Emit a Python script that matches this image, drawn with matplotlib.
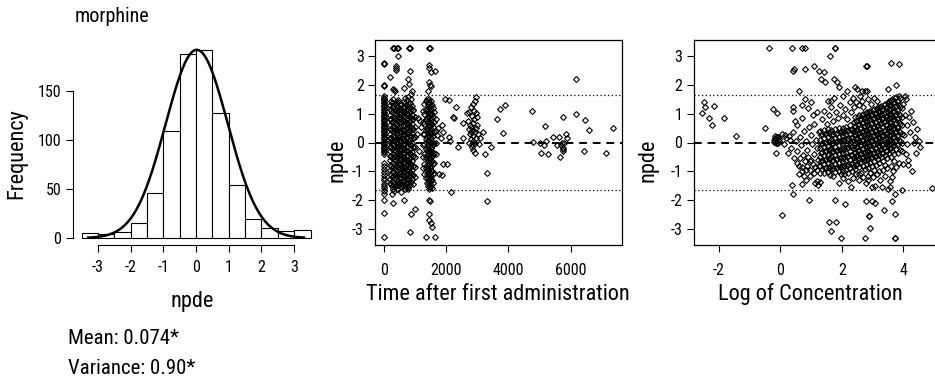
import numpy as np
import matplotlib.pyplot as plt

plt.rcParams['font.family'] = ['Roboto Condensed', 'Lato', 'DejaVu Sans']
plt.rcParams['axes.unicode_minus'] = False

W, H = 935, 385

# === histogram of npde ===
bin_edges  = [-3.5, -3.0, -2.5, -2.0, -1.5, -1.0, -0.5, 0.0, 0.5, 1.0, 1.5, 2.0, 2.5, 3.0, 3.5]
bin_counts = [5, 4, 6, 15, 46, 109, 188, 192, 128, 54, 19, 10, 7, 8]
curve_mean, curve_sd, curve_peak = 0.02, 0.95, 192
hist_xticks = [-3, -2, -1, 0, 1, 2, 3]
hist_yticks = [0, 50, 100, 150]

# === npde vs time ===
# points at time 0
t0_npde = [2.75, 2.72, 2.00, 1.96, 1.60, 1.55, 1.50, 1.46, 1.41, 1.36, 1.31, 1.27, 1.22,
           1.17, 1.12, 1.07, 1.02, 0.97, 0.93, 0.88, 0.83, 0.78, 0.73, 0.68, 0.64, 0.59,
           0.54, 0.49, 0.44, 0.39, 0.35, 0.30, 0.25, 0.20, 0.15, 0.11, 0.06, 0.01, -0.04,
           -0.09, -0.14, -0.19, -0.24, -0.29, -0.34, -0.39, -0.70, -0.82, -0.93, -1.02,
           -1.12, -1.22, -1.30, -1.45, -1.50, -1.58, -1.69, -1.80, -1.98, -2.44, -3.29]

# dense columns (time, npde values)
time_cols = [
    (180, [1.30, 0.95, 0.62, 0.30, 0.02, -0.30, -0.62, -0.95, -1.28]),
    (200, [1.15, 0.80, 0.46, 0.14, -0.16, -0.46, -0.78, -1.10, -1.42]),
    (220, [1.45, 1.12, 0.80, 0.46, 0.15, -0.15, -0.46, -0.80, -1.12, -1.45]),
    (260, [1.38, 1.05, 0.72, 0.40, 0.08, -0.24, -0.55, -0.88, -1.20, -1.52]),
    (280, [1.22, 0.88, 0.56, 0.24, -0.08, -0.40, -0.72, -1.04, -1.36]),
    (300, [1.50, 1.20, 0.88, 0.55, 0.22, -0.08, -0.40, -0.72, -1.04, -1.36, -1.62]),
    (340, [1.32, 1.00, 0.66, 0.35, 0.04, -0.28, -0.60, -0.92, -1.25, -1.55]),
    (360, [1.16, 0.84, 0.50, 0.20, -0.12, -0.44, -0.76, -1.08, -1.40]),
    (380, [1.42, 1.10, 0.78, 0.45, 0.12, -0.18, -0.50, -0.82, -1.15, -1.46]),
    (420, [1.25, 0.92, 0.60, 0.28, -0.04, -0.36, -0.68, -1.00, -1.32, -1.60]),
    (440, [1.40, 1.08, 0.76, 0.44, 0.12, -0.20, -0.52, -0.84, -1.16, -1.46]),
    (460, [1.48, 1.15, 0.84, 0.50, 0.18, -0.12, -0.44, -0.76, -1.08, -1.40]),
    (500, [1.20, 0.88, 0.55, 0.24, -0.08, -0.40, -0.72, -1.04, -1.36]),
    (520, [1.04, 0.72, 0.40, 0.08, -0.24, -0.56, -0.88, -1.20]),
    (540, [1.35, 1.02, 0.70, 0.38, 0.06, -0.26, -0.58, -0.90, -1.22, -1.50]),
    (580, [1.10, 0.78, 0.45, 0.14, -0.18, -0.50, -0.82, -1.14, -1.45]),
    (600, [1.25, 0.92, 0.60, 0.28, -0.04, -0.36, -0.68, -1.00, -1.30]),
    (620, [1.40, 1.06, 0.74, 0.42, 0.10, -0.22, -0.54, -0.86, -1.18, -1.50]),
    (660, [1.55, 1.22, 0.90, 0.58, 0.26, -0.06, -0.38, -0.70, -1.02, -1.34, -1.62]),
    (680, [1.38, 1.06, 0.74, 0.42, 0.10, -0.22, -0.54, -0.86, -1.18, -1.48]),
    (700, [1.30, 0.98, 0.66, 0.34, 0.02, -0.30, -0.62, -0.94, -1.26, -1.56]),
    (740, [1.48, 1.16, 0.84, 0.52, 0.20, -0.12, -0.44, -0.76, -1.08, -1.40]),
    (760, [1.32, 1.00, 0.68, 0.36, 0.04, -0.28, -0.60, -0.92, -1.24, -1.54]),
    (780, [1.58, 1.25, 0.94, 0.62, 0.30, -0.02, -0.34, -0.66, -0.98, -1.30, -1.60]),
    (820, [1.38, 1.06, 0.74, 0.42, 0.10, -0.22, -0.54, -0.86, -1.18, -1.48]),
    (840, [1.22, 0.90, 0.58, 0.26, -0.06, -0.38, -0.70, -1.02, -1.34]),
    (860, [1.50, 1.18, 0.86, 0.54, 0.22, -0.10, -0.42, -0.74, -1.06, -1.38]),
    (900, [1.28, 0.96, 0.64, 0.32, 0.00, -0.32, -0.64, -0.96, -1.28]),
    (920, [1.12, 0.80, 0.48, 0.16, -0.16, -0.48, -0.80, -1.12]),
    (940, [1.12, 0.80, 0.48, 0.16, -0.16, -0.48, -0.80, -1.12, -1.44]),
    (980, [0.90, 0.55, 0.20, -0.15, -0.50, -0.85, -1.20]),
    (1260, [1.10, 0.70, 0.30, -0.10, -0.50, -0.90]),
    (1300, [1.35, 1.00, 0.65, 0.30, -0.05, -0.40, -0.75, -1.10]),
    (1340, [1.45, 1.12, 0.78, 0.45, 0.12, -0.22, -0.55, -0.88, -1.22]),
    (1380, [1.50, 1.18, 0.85, 0.52, 0.20, -0.12, -0.45, -0.78, -1.10, -1.42]),
    (1400, [1.34, 1.02, 0.68, 0.36, 0.04, -0.28, -0.62, -0.94, -1.26]),
    (1420, [1.40, 1.08, 0.75, 0.42, 0.10, -0.22, -0.55, -0.88, -1.20, -1.52]),
    (1440, [1.24, 0.92, 0.60, 0.26, -0.06, -0.38, -0.70, -1.02, -1.34]),
    (1460, [1.52, 1.20, 0.88, 0.55, 0.22, -0.10, -0.42, -0.75, -1.08, -1.40, -1.62]),
    (1480, [1.36, 1.04, 0.72, 0.38, 0.06, -0.26, -0.58, -0.90, -1.22, -1.54]),
    (1500, [1.45, 1.12, 0.80, 0.48, 0.15, -0.18, -0.50, -0.82, -1.15, -1.48]),
    (1520, [1.28, 0.96, 0.64, 0.30, -0.02, -0.34, -0.66, -0.98, -1.30]),
    (1540, [1.30, 0.98, 0.65, 0.32, 0.00, -0.32, -0.65, -0.98, -1.30, -1.58]),
    (1580, [1.20, 0.88, 0.55, 0.22, -0.10, -0.42, -0.75, -1.08, -1.40]),
    (1620, [1.05, 0.70, 0.35, 0.00, -0.35, -0.70, -1.05]),
    (1660, [0.80, 0.40, 0.00, -0.40]),
]

# scattered points (time, npde)
time_sparse = [
    (300, 3.29), (330, 3.29), (420, 3.29), (450, 3.29), (450, 3.00), (380, 2.67), (400, 2.60),
    (380, 2.52), (200, 2.27), (300, 1.86), (320, 1.84), (350, 1.80), (280, -2.10), (250, -1.80),
    (330, -1.70), (800, 3.29), (840, 3.29), (850, 2.50), (780, 2.20), (800, 2.03), (650, 1.90),
    (900, 1.80), (880, 1.70), (650, -2.00), (1000, -2.32), (880, -2.50), (820, -3.10), (560, -1.72),
    (1100, 0.85), (1150, 0.75), (1050, 0.30), (1200, 0.55), (1120, -0.30),
    (1450, 3.29), (1480, 3.29), (1440, 2.70), (1460, 2.60), (1500, 2.45), (1650, 2.50),
    (1440, 2.10), (1500, 1.95), (1420, 1.80), (1470, 2.00), (1450, -2.00), (1480, -2.02),
    (1440, -2.48), (1450, -2.70), (1500, -2.80), (1540, -2.95), (1350, -3.29), (1650, -3.29),
    (1750, 0.50), (1760, -1.08), (1890, -0.73), (1950, 1.52), (1700, 0.25),
    (1854, 0.62), (1908, 0.38), (1833, 0.17), (1854, -1.13), (2015, -0.73), (2100, 1.48),
    (2100, 0.20), (2122, 0.06), (2143, -1.72), (2229, 0.90), (2250, 0.85), (2315, 1.24),
    (2390, -0.14), (2529, 0.17), (2550, 0.69),
    (2958, 1.57), (2926, 1.43), (2872, 1.34), (2787, 1.22), (2744, 1.05), (2680, 1.01),
    (2819, 0.93), (2958, 1.01), (2980, 0.87), (2712, 0.76), (2765, 0.62), (2872, 0.66),
    (3001, 0.62), (2744, 0.47), (2819, 0.41), (2926, 0.35), (2765, 0.29), (2851, 0.23),
    (3033, 0.29), (3194, 0.38), (3087, 0.17), (2872, 0.06), (2744, -0.03), (2926, -0.03),
    (3065, -0.06), (2819, -0.17), (2872, -0.27), (2926, -0.35), (2787, 0.12), (2800, 0.55),
    (2900, 0.80), (2850, 0.45), (2780, 0.35), (2950, 0.15), (2830, -0.05), (2890, 1.10),
    (2960, 0.50),
    (3243, -0.41), (3318, -1.05), (3318, -2.03), (3425, -0.17), (3618, 0.81), (3725, 1.16),
    (3811, 0.33), (3886, 1.31), (4743, 1.08), (4796, 0.03), (5010, -0.03), (5032, -0.35),
    (5171, 0.58), (5203, 0.06), (5139, -0.08), (5278, -0.41), (5439, 0.20), (5546, -0.08),
    (5632, 0.20), (5653, -0.50), (5739, -0.29), (5761, 0.90), (5782, -0.03), (5846, 0.29),
    (5889, 0.15), (5700, -0.10), (5740, -0.18), (5760, -0.22), (5720, 0.00), (6185, 2.21),
    (6185, 0.99), (6431, -0.29), (6475, 0.79), (6593, 0.44), (7129, -0.38), (7374, 0.52),
]
time_xticks = [0, 2000, 4000, 6000]

# === npde vs log concentration ===
conc_cols = [
    (1.30, [0.40, 0.10, -0.20, -0.50, -0.80]),
    (1.33, [0.25, -0.05, -0.35, -0.65]),
    (1.36, [0.28, -0.02, -0.32, -0.62, -0.92]),
    (1.42, [0.45, 0.15, -0.15, -0.45, -0.75, -1.05]),
    (1.45, [0.30, 0.00, -0.30, -0.60, -0.90]),
    (1.48, [0.32, 0.02, -0.28, -0.58, -0.88]),
    (1.54, [0.48, 0.18, -0.12, -0.42, -0.72, -1.02]),
    (1.57, [0.33, 0.03, -0.27, -0.57, -0.87]),
    (1.60, [0.36, 0.06, -0.24, -0.54, -0.84, -1.12]),
    (1.66, [0.42, 0.12, -0.18, -0.48, -0.78]),
    (1.69, [0.27, -0.03, -0.33, -0.63, -0.93]),
    (1.72, [0.30, 0.00, -0.30, -0.60, -0.90, -1.15]),
    (1.78, [0.46, 0.16, -0.14, -0.44, -0.74, -1.04]),
    (1.81, [0.31, 0.01, -0.29, -0.59, -0.89]),
    (1.84, [0.34, 0.04, -0.26, -0.56, -0.86]),
    (1.90, [0.50, 0.20, -0.10, -0.40, -0.70, -1.00]),
    (1.93, [0.35, 0.05, -0.25, -0.55, -0.85]),
    (1.96, [0.38, 0.08, -0.22, -0.52, -0.82, -1.10]),
    (2.02, [0.52, 0.22, -0.08, -0.38, -0.68, -0.98]),
    (2.05, [0.37, 0.07, -0.23, -0.53, -0.83]),
    (2.08, [0.40, 0.10, -0.20, -0.50, -0.80, -1.08]),
    (2.14, [0.55, 0.25, -0.05, -0.35, -0.65, -0.95]),
    (2.17, [0.40, 0.10, -0.20, -0.50, -0.80]),
    (2.20, [0.44, 0.14, -0.16, -0.46, -0.76, -1.05]),
    (2.26, [0.60, 0.30, 0.00, -0.30, -0.60, -0.90]),
    (2.29, [0.45, 0.15, -0.15, -0.45, -0.75]),
    (2.32, [0.48, 0.18, -0.12, -0.42, -0.72, -1.00]),
    (2.38, [0.70, 0.40, 0.10, -0.20, -0.50, -0.80]),
    (2.41, [0.55, 0.25, -0.05, -0.35, -0.65]),
    (2.44, [0.88, 0.58, 0.28, -0.02, -0.32, -0.62, -0.92]),
    (2.47, [0.73, 0.43, 0.13, -0.17, -0.47, -0.77]),
    (2.50, [0.75, 0.45, 0.15, -0.15, -0.45, -0.75]),
    (2.53, [0.90, 0.60, 0.30, 0.00, -0.30, -0.60]),
    (2.56, [0.95, 0.65, 0.35, 0.05, -0.25, -0.55, -0.85, -1.10]),
    (2.59, [0.80, 0.50, 0.20, -0.10, -0.40, -0.70]),
    (2.62, [0.82, 0.52, 0.22, -0.08, -0.38, -0.68]),
    (2.65, [0.97, 0.67, 0.37, 0.07, -0.23, -0.53]),
    (2.68, [1.00, 0.70, 0.40, 0.10, -0.20, -0.50, -0.80]),
    (2.71, [0.85, 0.55, 0.25, -0.05, -0.35, -0.65]),
    (2.74, [0.88, 0.58, 0.28, -0.02, -0.32, -0.62, -0.92]),
    (2.77, [1.03, 0.73, 0.43, 0.13, -0.17, -0.47]),
    (2.80, [1.05, 0.75, 0.45, 0.15, -0.15, -0.45, -0.75]),
    (2.83, [0.90, 0.60, 0.30, 0.00, -0.30, -0.60]),
    (2.86, [0.92, 0.62, 0.32, 0.02, -0.28, -0.58, -0.88, -1.15]),
    (2.89, [1.07, 0.77, 0.47, 0.17, -0.13, -0.43]),
    (2.92, [1.10, 0.80, 0.50, 0.20, -0.10, -0.40, -0.70]),
    (2.95, [0.95, 0.65, 0.35, 0.05, -0.25, -0.55]),
    (2.98, [0.98, 0.68, 0.38, 0.08, -0.22, -0.52, -0.82]),
    (3.01, [1.13, 0.83, 0.53, 0.23, -0.07, -0.37]),
    (3.04, [1.15, 0.85, 0.55, 0.25, -0.05, -0.35, -0.65, -0.95]),
    (3.07, [1.00, 0.70, 0.40, 0.10, -0.20, -0.50]),
    (3.10, [1.02, 0.72, 0.42, 0.12, -0.18, -0.48, -0.78]),
    (3.13, [1.17, 0.87, 0.57, 0.27, -0.03, -0.33]),
    (3.16, [1.22, 0.92, 0.62, 0.32, 0.02, -0.28, -0.58]),
    (3.19, [1.07, 0.77, 0.47, 0.17, -0.13, -0.43]),
    (3.22, [1.08, 0.78, 0.48, 0.18, -0.12, -0.42, -0.72, -1.00]),
    (3.25, [1.23, 0.93, 0.63, 0.33, 0.03, -0.27]),
    (3.28, [1.28, 0.98, 0.68, 0.38, 0.08, -0.22, -0.52]),
    (3.31, [1.13, 0.83, 0.53, 0.23, -0.07, -0.37]),
    (3.34, [1.15, 0.85, 0.55, 0.25, -0.05, -0.35, -0.65]),
    (3.37, [1.30, 1.00, 0.70, 0.40, 0.10, -0.20]),
    (3.40, [1.35, 1.05, 0.75, 0.45, 0.15, -0.15, -0.45, -0.78]),
    (3.43, [1.20, 0.90, 0.60, 0.30, 0.00, -0.30]),
    (3.46, [1.22, 0.92, 0.62, 0.32, 0.02, -0.28, -0.55]),
    (3.49, [1.37, 1.07, 0.77, 0.47, 0.17, -0.13]),
    (3.52, [1.45, 1.15, 0.85, 0.55, 0.25, -0.05, -0.35]),
    (3.55, [1.30, 1.00, 0.70, 0.40, 0.10, -0.20]),
    (3.58, [1.30, 1.00, 0.70, 0.40, 0.10, -0.20, -0.50, -0.80]),
    (3.61, [1.45, 1.15, 0.85, 0.55, 0.25, -0.05]),
    (3.64, [1.52, 1.22, 0.92, 0.62, 0.32, 0.02, -0.28]),
    (3.67, [1.37, 1.07, 0.77, 0.47, 0.17, -0.13]),
    (3.70, [1.40, 1.10, 0.80, 0.50, 0.20, -0.10, -0.40, -0.65]),
    (3.73, [1.55, 1.25, 0.95, 0.65, 0.35, 0.05]),
    (3.76, [1.58, 1.28, 0.98, 0.68, 0.38, 0.08, -0.22]),
    (3.79, [1.43, 1.13, 0.83, 0.53, 0.23, -0.07]),
    (3.82, [1.45, 1.15, 0.85, 0.55, 0.25, -0.05, -0.35]),
    (3.85, [1.60, 1.30, 1.00, 0.70, 0.40, 0.10]),
    (3.88, [1.55, 1.25, 0.95, 0.65, 0.35, 0.05, -0.25]),
    (3.94, [1.20, 0.90, 0.60, 0.30, 0.00, -0.30]),
]

conc_sparse = [
    (-2.54, 1.01), (-2.49, 1.40), (-2.44, 1.24), (-2.33, 0.85), (-2.22, 0.62), (-2.14, 1.28),
    (-1.82, 0.84), (-1.43, 0.21), (-0.49, 0.52), (-0.38, 3.29), (-0.24, 1.16), (-0.11, 1.02),
    (-0.14, -0.37), (0.06, -2.52), (0.06, 0.31),
    (-0.20, 0.10), (-0.15, 0.05), (-0.10, 0.00), (-0.05, 0.12), (-0.12, 0.18), (-0.08, -0.03),
    (-0.18, 0.15), (-0.03, 0.05), (-0.13, -0.02), (-0.06, 0.20), (-0.16, 0.22), (-0.22, 0.02),
    (0.38, 3.29), (0.70, 3.29), (0.81, 3.29), (1.76, 3.29), (1.78, 3.29), (1.62, 2.99),
    (1.08, 2.67), (0.41, 2.50), (0.44, 2.56), (0.79, 2.56), (1.27, 2.50), (1.41, 2.45),
    (1.33, 2.20), (1.46, 2.10), (1.73, 2.20), (1.84, 2.10), (0.60, 1.80), (0.41, 1.22),
    (1.89, 1.92), (2.16, 1.80), (2.44, 1.92), (2.49, 1.86), (2.65, 1.80), (2.76, 1.80),
    (2.78, 2.67), (2.81, 2.67), (3.60, 2.75), (3.84, 2.71), (3.50, 1.86), (3.76, 2.01),
    (0.79, 1.51), (1.66, 1.45), (2.81, 1.80),
    (0.39, -1.48), (0.41, -1.78), (0.92, -2.01), (1.79, -2.01), (2.11, -2.13), (2.78, -2.03),
    (2.87, -2.56), (1.57, -2.76), (1.81, -2.76), (1.66, -3.08), (1.98, -3.31), (2.76, -3.31),
    (0.72, -1.45), (2.98, -2.03), (3.06, -2.09), (2.89, -2.56), (2.92, -2.97), (3.36, -2.36),
    (3.62, -2.03), (3.71, -2.47), (3.71, -1.80), (3.71, -3.31), (3.72, -3.30), (3.95, -1.65),
    (4.92, -1.59), (3.50, -1.63), (3.57, -1.55),
    (4.08, 1.51), (4.17, 0.87), (4.44, 0.47), (4.38, 0.20), (4.50, 0.05), (4.55, -0.17),
    (4.27, -0.99), (4.14, -0.78), (3.62, -1.20),
    (1.14, -1.40), (1.22, -1.48), (1.28, -1.38), (1.18, -1.35),
    (0.15, 0.25), (0.25, -0.35), (0.30, 0.10), (0.35, -0.20), (0.42, 0.35), (0.45, -0.55),
    (0.50, 0.05), (0.55, -0.30), (0.55, 0.60), (0.62, -0.80), (0.65, 0.20), (0.68, -0.10),
    (0.72, 0.85), (0.75, -0.45), (0.78, 0.40), (0.82, -0.95), (0.85, 0.05), (0.88, -0.25),
    (0.90, 1.20), (0.92, 0.55), (0.95, -0.65), (0.98, -1.15), (1.00, 0.25), (1.02, -0.05),
    (1.05, 0.95), (1.08, -0.40), (1.10, 0.65), (1.12, -0.85), (1.15, 0.10), (1.18, -0.20),
    (1.20, 1.05), (1.22, -0.60), (1.25, 0.35), (1.28, -1.05), (0.40, 1.10), (0.70, 1.30),
    (1.00, 1.40), (0.60, -1.10), (0.85, -1.30), (0.48, 0.75),
    (0.55, -0.70), (0.65, -0.55), (0.72, -0.85), (0.80, -0.65), (0.88, -0.80), (0.95, -0.95),
    (1.05, -0.75), (1.10, -1.05), (1.18, -0.95), (1.25, -0.80), (0.90, -0.50), (1.00, -0.60),
    (0.70, -1.00), (0.78, -1.15), (0.20, 0.15), (0.28, 0.22), (0.12, -0.05),
    (1.35, 0.80), (1.42, 1.10), (1.50, 0.65), (1.58, 0.95), (1.65, 1.25), (1.72, 0.75),
    (1.80, 1.05), (1.88, 0.85), (1.95, 1.30), (2.02, 0.95), (2.10, 1.15), (2.18, 0.80),
    (2.25, 1.40), (2.30, 1.05), (2.36, 1.55), (1.55, 1.45), (2.05, 1.60), (1.75, 1.55),
    (2.40, 1.25), (2.45, 1.40), (2.55, 1.30), (2.65, 1.45), (2.70, 1.25), (2.85, 1.50),
    (2.95, 1.35), (3.05, 1.55), (3.15, 1.45), (2.60, 1.62),
    (2.45, -1.10), (2.55, -1.30), (2.62, -1.05), (2.70, -1.20), (2.78, -1.40), (2.85, -1.30),
    (2.92, -1.05), (3.00, -1.20), (3.08, -1.50), (3.15, -1.10), (3.25, -1.30), (3.32, -0.95),
    (3.40, -1.15), (3.48, -0.90), (3.55, -1.35), (3.65, -1.00), (3.75, -0.85), (3.85, -0.70),
    (2.35, -1.25), (2.20, -1.35), (2.05, -1.25), (1.90, -1.40), (2.28, -1.55), (2.98, -1.55),
    (3.30, -1.55),
    (4.00, 1.35), (4.05, 0.95), (4.10, 0.60), (4.02, 0.25), (4.12, -0.05), (4.08, -0.40),
    (4.20, 0.35), (4.25, 1.10), (4.30, 0.70), (4.15, -0.60), (4.35, 0.00), (4.00, -0.75),
    (4.40, -0.35), (4.05, 1.60),
]
conc_xticks = [-2, 0, 2, 4]
npde_yticks = [-3, -2, -1, 0, 1, 2, 3]
pi_limit = 1.645


def expand(cols):
    xs, ys = [], []
    for x, vals in cols:
        xs += [x] * len(vals)
        ys += vals
    return xs, ys


def px_axes(left, top, right, bottom):
    return fig.add_axes([left / W, 1 - bottom / H, (right - left) / W, (bottom - top) / H])


def px_text(x, y, s, **kw):
    fig.text(x / W, 1 - y / H, s, **kw)


fig = plt.figure(figsize=(W / 100, H / 100), dpi=100)

tick_kw = dict(direction='out', length=5, width=0.8, labelsize=11.5, color='black')
pt_kw = dict(ls='none', marker='D', ms=3.0, mfc='none', mec='black', mew=0.8)

# --- panel 1: histogram ---
ax1 = px_axes(72.5, 40, 319.7, 245)
ax1.bar(bin_edges[:-1], bin_counts, width=0.5, align='edge',
        color='white', edgecolor='black', lw=0.8)
xc = np.linspace(-3.3, 3.3, 200)
ax1.plot(xc, curve_peak * np.exp(-(xc - curve_mean) ** 2 / (2 * curve_sd ** 2)), color='black', lw=1.8)
ax1.set_xlim(-3.78, 3.78)
ax1.set_ylim(-7.1, 202)
for s in ['top', 'right']:
    ax1.spines[s].set_visible(False)
ax1.spines['left'].set_bounds(0, 150)
ax1.spines['bottom'].set_bounds(-3, 3)
ax1.set_xticks(hist_xticks)
ax1.set_yticks(hist_yticks)
ax1.tick_params(axis='x', pad=6, **tick_kw)
ax1.tick_params(axis='y', pad=3, **tick_kw)

# --- panel 2: npde vs time ---
ax2 = px_axes(375, 40, 622, 245)
tx, ty = expand(time_cols)
ax2.plot([0] * len(t0_npde), t0_npde, **pt_kw)
ax2.plot(tx, ty, **pt_kw)
sx, sy = zip(*time_sparse)
ax2.plot(sx, sy, **pt_kw)
ax2.set_xlim(-290, 7650)
ax2.set_xticks(time_xticks)

# --- panel 3: npde vs log concentration ---
ax3 = px_axes(693.5, 40, 943.5, 245)
cx, cy = expand(conc_cols)
ax3.plot(cx, cy, **pt_kw)
sx, sy = zip(*conc_sparse)
ax3.plot(sx, sy, **pt_kw)
ax3.set_xlim(-2.82, 5.3)
ax3.set_xticks(conc_xticks)

for ax in (ax2, ax3):
    ax.set_ylim(-3.56, 3.56)
    ax.set_yticks(npde_yticks)
    ax.axhline(0, color='black', lw=1.4, ls=(0, (4, 3)))
    ax.axhline(pi_limit, color='black', lw=0.9, ls=(0, (1, 2)))
    ax.axhline(-pi_limit, color='black', lw=0.9, ls=(0, (1, 2)))
    for s in ax.spines.values():
        s.set_linewidth(0.9)
    ax.tick_params(axis='x', pad=8, **tick_kw)
    ax.tick_params(axis='y', pad=3, **tick_kw)

# --- texts ---
px_text(75, 16, 'morphine', fontsize=14.5, ha='left', va='center')
px_text(17, 154, 'Frequency', fontsize=16, rotation=90, ha='center', va='center')
px_text(192, 302, 'npde', fontsize=16, ha='center', va='center')
px_text(498, 294, 'Time after first administration', fontsize=16, ha='center', va='center')
px_text(810, 294, 'Log of Concentration', fontsize=16, ha='center', va='center')
px_text(337, 160, 'npde', fontsize=16, rotation=90, ha='center', va='center')
px_text(648, 160, 'npde', fontsize=16, rotation=90, ha='center', va='center')
px_text(68, 338, 'Mean: 0.074*', fontsize=15, ha='left', va='center')
px_text(68, 369, 'Variance: 0.90*', fontsize=15, ha='left', va='center')

fig.savefig('out.png', dpi=100)
